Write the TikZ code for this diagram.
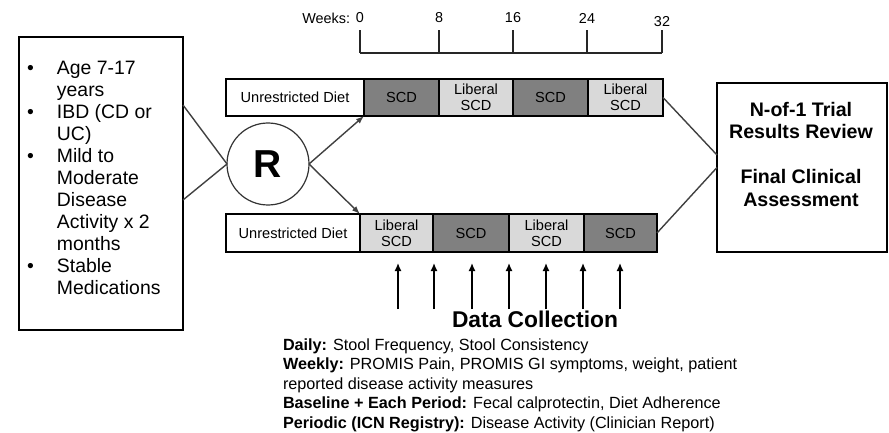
\documentclass[tikz,border=0pt]{standalone}
\usepackage{fontspec}
\setmainfont{Liberation Sans}
\usepackage{tikz}
\usetikzlibrary{arrows.meta}

\definecolor{scddark}{HTML}{808080}
\definecolor{scdlight}{HTML}{D9D9D9}

\begin{document}
\begin{tikzpicture}[x=0.5pt, y=-0.5pt, every node/.style={inner sep=0pt, outer sep=0pt},
    phase/.style={draw=black, line width=0.75pt, align=center, font=\fontsize{7.3}{8}\selectfont},
    diet/.style={phase, fill=white},
    scd/.style={phase, fill=scddark},
    liberal/.style={phase, fill=scdlight},
    link/.style={draw=black!75, line width=0.7pt},
    weeklabel/.style={font=\fontsize{7.2}{8}\selectfont},
    tick/.style={draw=black!85, line width=0.75pt}]
    \useasboundingbox (0,0) rectangle (889,433);

    \node[draw=black, line width=0.75pt, minimum width=82pt, minimum height=146.5pt] (crit) at (101,183.5) {};
    \node[anchor=north west, font=\fontsize{9.7}{11}\selectfont] (critlist) at (27,59) {\begin{tabular}{@{}l@{\hspace{11.6pt}}l@{}}
        \textbullet & Age 7-17\\ & years\\
        \textbullet & IBD (CD or\\ & UC)\\
        \textbullet & Mild to\\ & Moderate\\ & Disease\\ & Activity x 2\\ & months\\
        \textbullet & Stable\\ & Medications
    \end{tabular}};

    \node[shape=circle, draw=black!80, line width=0.6pt, minimum size=41pt, font=\bfseries\fontsize{19.5}{20}\selectfont] (rand) at (268,164) {R};

    \node[weeklabel, anchor=east] (weeks) at (350,18) {Weeks:};
    \node[weeklabel] (t0) at (360,18) {0};
    \node[weeklabel] (t8) at (439,18) {8};
    \node[weeklabel] (t16) at (513,18) {16};
    \node[weeklabel] (t24) at (587,18) {24};
    \node[weeklabel] (t32) at (662,22) {32};
    \coordinate (w0) at (360,53);
    \coordinate (w8) at (439,53);
    \coordinate (w16) at (513,53);
    \coordinate (w24) at (587,53);
    \coordinate (w32) at (662,53);
    \draw[tick] (w0) -- (w32);
    \draw[tick] (w0) -- ++(0,-23);
    \draw[tick] (w8) -- ++(0,-23);
    \draw[tick] (w16) -- ++(0,-23);
    \draw[tick] (w24) -- ++(0,-23);
    \draw[tick] (w32) -- ++(0,-23);

    \node[diet, minimum width=69pt, minimum height=18.5pt] (diet1) at (295,97.5) {Unrestricted Diet};
    \node[scd, minimum width=37.5pt, minimum height=18.5pt] (scd1a) at (401.5,97.5) {SCD};
    \node[liberal, minimum width=37pt, minimum height=18.5pt] (lib1a) at (476,97.5) {Liberal\\SCD};
    \node[scd, minimum width=37.5pt, minimum height=18.5pt] (scd1b) at (550.5,97.5) {SCD};
    \node[liberal, minimum width=37.5pt, minimum height=18.5pt] (lib1b) at (625.5,97.5) {Liberal\\SCD};

    \node[diet, minimum width=67pt, minimum height=19pt] (diet2) at (293,233) {Unrestricted Diet};
    \node[liberal, minimum width=36.5pt, minimum height=19pt] (lib2a) at (396.5,233) {Liberal\\SCD};
    \node[scd, minimum width=38pt, minimum height=19pt] (scd2a) at (471,233) {SCD};
    \node[liberal, minimum width=37.5pt, minimum height=19pt] (lib2b) at (546.5,233) {Liberal\\SCD};
    \node[scd, minimum width=36.5pt, minimum height=19pt] (scd2b) at (620.5,233) {SCD};

    \node[draw=black, line width=0.75pt, minimum width=85pt, minimum height=84.5pt] (review) at (802,167.5) {};
    \node[align=center, font=\bfseries\fontsize{9.8}{11.25}\selectfont] (reviewtext) at (801,154) {N-of-1 Trial\\Results Review\\[11.25pt]Final Clinical\\Assessment};

    \draw[link] ([yshift=39.25pt]crit.east) -- (rand.west);
    \draw[link] ([yshift=-8.25pt]crit.east) -- (rand.west);
    \draw[link, -{Latex[length=4pt,width=3pt]}] (rand.east) -- (scd1a.south west);
    \draw[link, -{Latex[length=4pt,width=3pt]}] (rand.east) -- (lib2a.north west);
    \draw[link] (lib1b.east) -- ([yshift=6.25pt]review.west);
    \draw[link] (scd2b.east) -- (review.west);

    \foreach \x in {398,434,472,509,546,583,620}
        \draw[black, line width=0.7pt, -{Latex[length=4pt,width=3.5pt]}] (\x,309) -- (\x,263);

    \node[font=\bfseries\fontsize{11.4}{13}\selectfont] (datatitle) at (535,319) {Data Collection};
    \node[anchor=north west, font=\fontsize{8.1}{9.75}\selectfont] (datalist) at (283,336.4) {\begin{tabular}{@{}l@{}}
        \textbf{Daily:} Stool Frequency, Stool Consistency\\
        \textbf{Weekly:} PROMIS Pain, PROMIS GI symptoms, weight, patient\\
        reported disease activity measures\\
        \textbf{Baseline + Each Period:} Fecal calprotectin, Diet Adherence\\
        \textbf{Periodic (ICN Registry):} Disease Activity (Clinician Report)
    \end{tabular}};
\end{tikzpicture}
\end{document}
